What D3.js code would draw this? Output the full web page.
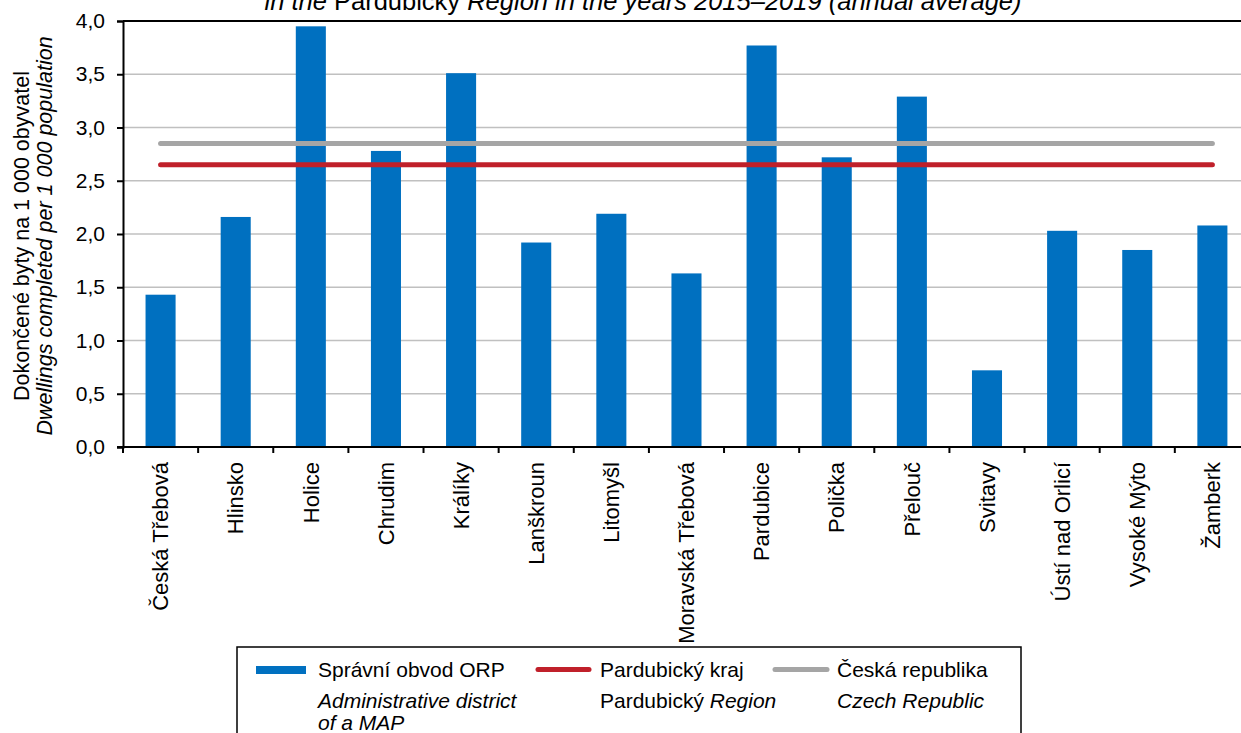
<!DOCTYPE html>
<html>
<head>
<meta charset="utf-8">
<script src="https://cdn.jsdelivr.net/npm/d3@7"></script>
<style>
  html, body { margin: 0; padding: 0; background: #fff; }
  svg { display: block; font-family: "Liberation Sans", Arial, sans-serif; }
</style>
</head>
<body>
<svg id="chart" width="1241" height="733"></svg>
<script>
// ---- data ----
const categories = ["Česká Třebová", "Hlinsko", "Holice", "Chrudim", "Králíky", "Lanškroun", "Litomyšl",
  "Moravská Třebová", "Pardubice", "Polička", "Přelouč", "Svitavy", "Ústí nad Orlicí", "Vysoké Mýto", "Žamberk"];
const orpValues = [1.43, 2.16, 3.95, 2.78, 3.51, 1.92, 2.19, 1.63, 3.77, 2.72, 3.29, 0.72, 2.03, 1.85, 2.08];
const regionValue = 2.65;   // Pardubický kraj
const czechValue = 2.85;    // Česká republika
const yTicks = [0, 0.5, 1, 1.5, 2, 2.5, 3, 3.5, 4];
const seriesNames = [
  { cz: "Správní obvod ORP", en: ["Administrative district", "of a MAP"] },
  { cz: "Pardubický kraj", en: null },
  { cz: "Česká republika", en: ["Czech Republic"] }
];

// ---- layout ----
const svg = d3.select("#chart");
const plotLeft = 123, plotTop = 21, plotBottom = 447, bandStep = 75.13;
const plotRight = plotLeft + bandStep * categories.length;
const blue = "#0070C0", red = "#C0202A", gray = "#A5A5A5";

const x = d3.scaleBand().domain(categories).range([plotLeft, plotRight]).paddingInner(0.6).paddingOuter(0.3);
const y = d3.scaleLinear().domain([0, 4]).range([plotBottom, plotTop]);
const fmt = v => d3.format(".1f")(v).replace(".", ",");

// title (cut off at the top, as in the reference)
const title = svg.append("text").attr("x", 643).attr("y", 10).attr("text-anchor", "middle")
  .attr("font-size", 25.5).attr("fill", "#000");
title.append("tspan").attr("font-style", "italic").text("in the ");
title.append("tspan").text("Pardubický");
title.append("tspan").attr("font-style", "italic").text(" Region in the years 2015–2019 (annual average)");

// gridlines
svg.append("g").selectAll("line").data(yTicks.filter(d => d > 0 && d < 4)).join("line")
  .attr("x1", plotLeft).attr("x2", plotRight).attr("y1", d => y(d)).attr("y2", d => y(d))
  .attr("stroke", "#C0C0C0").attr("stroke-width", 1.5);

// top border of plot area
svg.append("line").attr("x1", plotLeft).attr("x2", plotRight).attr("y1", y(4)).attr("y2", y(4))
  .attr("stroke", "#000").attr("stroke-width", 2);

// bars
svg.append("g").selectAll("rect").data(categories).join("rect")
  .attr("x", d => x(d)).attr("width", x.bandwidth())
  .attr("y", (d, i) => y(orpValues[i])).attr("height", (d, i) => plotBottom - y(orpValues[i]))
  .attr("fill", blue);

// lines
const lineGen = d3.line().x(d => x(d) + x.bandwidth() / 2);
svg.append("path").datum(categories).attr("d", lineGen.y(() => y(czechValue)))
  .attr("fill", "none").attr("stroke", gray).attr("stroke-width", 5).attr("stroke-linecap", "round");
svg.append("path").datum(categories).attr("d", lineGen.y(() => y(regionValue)))
  .attr("fill", "none").attr("stroke", red).attr("stroke-width", 5).attr("stroke-linecap", "round");

// y axis
const yAxis = svg.append("g").attr("transform", `translate(${plotLeft},0)`)
  .call(d3.axisLeft(y).tickValues(yTicks).tickFormat(fmt).tickSize(6).tickPadding(12));
yAxis.select(".domain").attr("stroke", "#000").attr("stroke-width", 2);
yAxis.selectAll(".tick line").attr("stroke", "#000").attr("stroke-width", 2);
yAxis.selectAll(".tick text").attr("font-size", 21).attr("fill", "#000")
  .attr("font-family", "Liberation Sans, Arial, sans-serif");

// x axis
svg.append("line").attr("x1", plotLeft - 6).attr("x2", plotRight).attr("y1", plotBottom).attr("y2", plotBottom)
  .attr("stroke", "#000").attr("stroke-width", 2);
const boundaries = d3.range(categories.length + 1).map(i => plotLeft + i * x.step());
svg.append("g").selectAll("line").data(boundaries).join("line")
  .attr("x1", d => d).attr("x2", d => d).attr("y1", plotBottom).attr("y2", plotBottom + 6)
  .attr("stroke", "#000").attr("stroke-width", 2);
svg.append("g").selectAll("text").data(categories).join("text")
  .attr("transform", d => `translate(${x(d) + x.bandwidth() / 2},462) rotate(-90)`)
  .attr("text-anchor", "end").attr("dy", "0.35em").attr("font-size", 22).attr("fill", "#000")
  .text(d => d);

// y axis title
const yt = svg.append("text").attr("transform", "translate(0,236) rotate(-90)")
  .attr("text-anchor", "middle").attr("font-size", 21.5).attr("fill", "#000");
yt.append("tspan").attr("x", 0).attr("y", 29).text("Dokončené byty na 1 000 obyvatel");
yt.append("tspan").attr("x", 0).attr("y", 52).attr("font-style", "italic")
  .text("Dwellings completed per 1 000 population");

// legend
const lg = svg.append("g");
lg.append("rect").attr("x", 237).attr("y", 647).attr("width", 784).attr("height", 110)
  .attr("fill", "#fff").attr("stroke", "#000").attr("stroke-width", 1.5);
lg.append("rect").attr("x", 256).attr("y", 666).attr("width", 50).attr("height", 8).attr("fill", blue);
lg.append("line").attr("x1", 538).attr("x2", 589).attr("y1", 669.5).attr("y2", 669.5)
  .attr("stroke", red).attr("stroke-width", 5).attr("stroke-linecap", "round");
lg.append("line").attr("x1", 775).attr("x2", 827).attr("y1", 669.5).attr("y2", 669.5)
  .attr("stroke", gray).attr("stroke-width", 5).attr("stroke-linecap", "round");

const lx = [318, 600, 837];
const legendSize = 21;
seriesNames.forEach((s, i) => {
  lg.append("text").attr("x", lx[i]).attr("y", 677).attr("font-size", legendSize).attr("fill", "#000").text(s.cz);
});
const en0 = lg.append("text").attr("font-size", legendSize).attr("font-style", "italic").attr("fill", "#000");
en0.append("tspan").attr("x", lx[0]).attr("y", 708).text(seriesNames[0].en[0]);
en0.append("tspan").attr("x", lx[0]).attr("y", 730).text(seriesNames[0].en[1]);
const en1 = lg.append("text").attr("x", lx[1]).attr("y", 708).attr("font-size", legendSize).attr("fill", "#000");
en1.append("tspan").text("Pardubický ");
en1.append("tspan").attr("font-style", "italic").text("Region");
lg.append("text").attr("x", lx[2]).attr("y", 708).attr("font-size", legendSize).attr("font-style", "italic")
  .attr("fill", "#000").text(seriesNames[2].en[0]);
</script>
</body>
</html>
